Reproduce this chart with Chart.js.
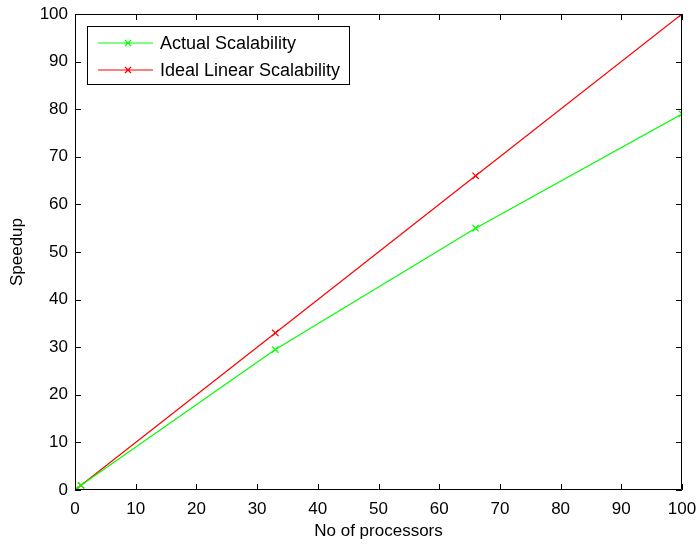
<!DOCTYPE html>
<html><head>
<meta charset="utf-8">
<script src="https://cdn.jsdelivr.net/npm/chart.js@4"></script>
<style>html,body{margin:0;padding:0;background:#fff}canvas{display:block}</style>
</head><body>
<canvas id="c" width="698" height="545"></canvas>
<script>
const processors = [0, 1, 33, 66, 100];
const actualSpeedup = [0, 1, 29.5, 55, 79];
const idealSpeedup = [0, 1, 33, 66, 100];
const seriesNames = ['Actual Scalability', 'Ideal Linear Scalability'];
const seriesColors = ['#00ff00', '#ff0000'];
const xTickValues = [0,10,20,30,40,50,60,70,80,90,100];
const yTickValues = [0,10,20,30,40,50,60,70,80,90,100];
const FONT = 'Arial, "Liberation Sans", sans-serif';

const toPts = (xs, ys) => xs.map((x, i) => ({x: x, y: ys[i]}));

const boxTicks = {
  id: 'boxTicks',
  afterDatasetsDraw(chart) {
    const {ctx, chartArea: a, scales: {x, y}} = chart;
    ctx.save();
    ctx.strokeStyle = '#000';
    ctx.lineWidth = 1;
    ctx.beginPath();
    ctx.rect(a.left + 0.5, a.top + 0.5, a.right - a.left - 1, a.bottom - a.top - 1);
    const L = 6;
    x.ticks.forEach(t => {
      const px = Math.round(x.getPixelForValue(t.value)) + 0.5;
      ctx.moveTo(px, a.bottom); ctx.lineTo(px, a.bottom - L);
      ctx.moveTo(px, a.top); ctx.lineTo(px, a.top + L);
    });
    y.ticks.forEach(t => {
      const py = Math.round(y.getPixelForValue(t.value)) + 0.5;
      ctx.moveTo(a.left, py); ctx.lineTo(a.left + L, py);
      ctx.moveTo(a.right, py); ctx.lineTo(a.right - L, py);
    });
    ctx.stroke();
    ctx.restore();
  }
};

const boxLegend = {
  id: 'boxLegend',
  afterDraw(chart) {
    const {ctx, chartArea: a} = chart;
    const bx = a.left + 12, by = a.top + 12, bw = 262, bh = 58;
    ctx.save();
    ctx.fillStyle = '#fff';
    ctx.fillRect(bx, by, bw, bh);
    ctx.strokeStyle = '#000';
    ctx.lineWidth = 1;
    ctx.strokeRect(bx + 0.5, by + 0.5, bw, bh);
    ctx.font = '18px ' + FONT;
    ctx.textBaseline = 'middle';
    chart.data.datasets.forEach((ds, i) => {
      const ry = by + 17 + i * 27;
      ctx.strokeStyle = ds.borderColor;
      ctx.lineWidth = 1.2;
      ctx.beginPath();
      ctx.moveTo(bx + 11, ry); ctx.lineTo(bx + 66, ry);
      const mx = bx + 41, r = 3;
      ctx.moveTo(mx - r, ry - r); ctx.lineTo(mx + r, ry + r);
      ctx.moveTo(mx - r, ry + r); ctx.lineTo(mx + r, ry - r);
      ctx.stroke();
      ctx.fillStyle = '#000';
      ctx.fillText(ds.label, bx + 73, ry + 1);
    });
    ctx.restore();
  }
};

new Chart(document.getElementById('c'), {
  type: 'line',
  data: {
    datasets: [
      {label: seriesNames[0], data: toPts(processors, actualSpeedup), borderColor: seriesColors[0], backgroundColor: seriesColors[0], pointBorderColor: seriesColors[0]},
      {label: seriesNames[1], data: toPts(processors, idealSpeedup), borderColor: seriesColors[1], backgroundColor: seriesColors[1], pointBorderColor: seriesColors[1]}
    ]
  },
  options: {
    responsive: false,
    animation: false,
    devicePixelRatio: 1,
    layout: {padding: {top: 14, right: 16, left: 0, bottom: 0}},
    elements: {
      line: {borderWidth: 1.2, tension: 0},
      point: {pointStyle: 'crossRot', radius: 4.5, borderWidth: 1.2, hoverRadius: 4.5}
    },
    plugins: {legend: {display: false}, tooltip: {enabled: false}},
    scales: {
      x: {
        type: 'linear', min: 0, max: 100,
        afterBuildTicks: s => { s.ticks = xTickValues.map(v => ({value: v})); },
        afterFit: s => { s.height = 55; s.paddingLeft = 0; s.paddingRight = 0; },
        grid: {display: false, drawTicks: false},
        border: {display: false},
        ticks: {color: '#000', font: {family: FONT, size: 17}, padding: 9, maxRotation: 0},
        title: {display: true, text: 'No of processors', color: '#000', font: {family: FONT, size: 17}, padding: {top: 0, bottom: 3}}
      },
      y: {
        type: 'linear', min: 0, max: 100,
        afterBuildTicks: s => { s.ticks = yTickValues.map(v => ({value: v})); },
        afterFit: s => { s.width = 75; s.paddingTop = 0; s.paddingBottom = 0; },
        grid: {display: false, drawTicks: false},
        border: {display: false},
        ticks: {color: '#000', font: {family: FONT, size: 17}, padding: 7},
        title: {display: true, text: 'Speedup', color: '#000', font: {family: FONT, size: 17}, padding: {top: 7, bottom: 0}}
      }
    }
  },
  plugins: [boxTicks, boxLegend]
});
</script>
</body></html>
